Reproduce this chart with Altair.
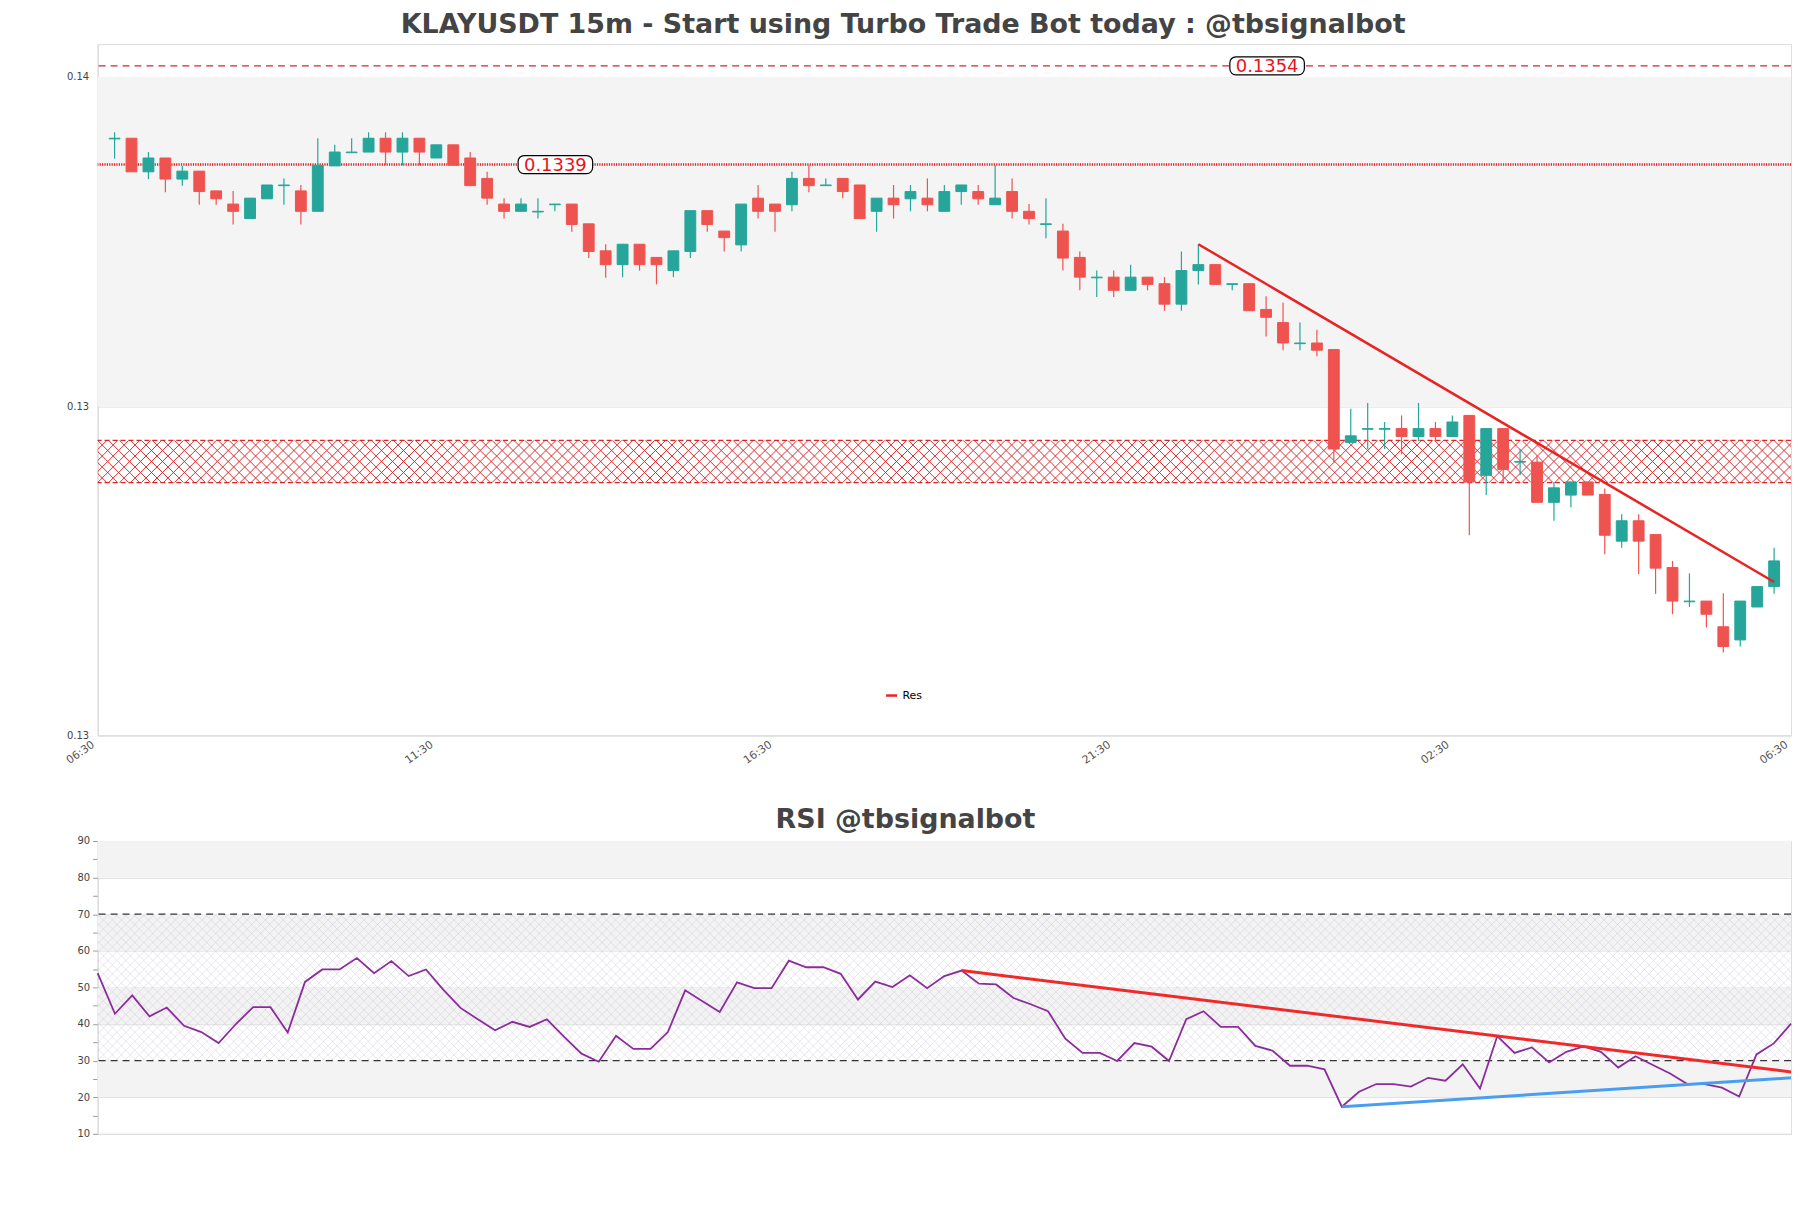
import json
import altair as alt
import pandas as pd

TITLE = "KLAYUSDT 15m - Start using Turbo Trade Bot today : @tbsignalbot"
RSI_TITLE = "RSI @tbsignalbot"
FONT = "DejaVu Sans"

# ---------------- candle data (15m) ----------------
opens = [0.13429, 0.13430, 0.13379, 0.13400, 0.13368, 0.13380, 0.13350, 0.13330, 0.13308, 0.13338,
         0.13358, 0.13350, 0.13319, 0.13388, 0.13408, 0.13409, 0.13430, 0.13409, 0.13430, 0.13400,
         0.13420, 0.13400, 0.13369, 0.13330, 0.13319, 0.13318, 0.13329, 0.13330, 0.13300, 0.13259,
         0.13238, 0.13269, 0.13249, 0.13229, 0.13258, 0.13320, 0.13289, 0.13268, 0.13339, 0.13330,
         0.13329, 0.13369, 0.13358, 0.13369, 0.13359, 0.13319, 0.13339, 0.13338, 0.13339, 0.13319,
         0.13349, 0.13349, 0.13329, 0.13349, 0.13319, 0.13299, 0.13289, 0.13249, 0.13218, 0.13219,
         0.13199, 0.13219, 0.13209, 0.13178, 0.13229, 0.13238, 0.13208, 0.13209, 0.13170, 0.13150,
         0.13118, 0.13119, 0.13109, 0.12968, 0.12988, 0.12988, 0.12989, 0.12977, 0.12989, 0.12977,
         0.13009, 0.12918, 0.12989, 0.12938, 0.12938, 0.12877, 0.12888, 0.12908, 0.12889, 0.12818,
         0.12849, 0.12828, 0.12778, 0.12726, 0.12727, 0.12688, 0.12668, 0.12718, 0.12749]
highs = [0.13439, 0.13430, 0.13409, 0.13400, 0.13388, 0.13380, 0.13350, 0.13350, 0.13339, 0.13359,
         0.13369, 0.13359, 0.13430, 0.13420, 0.13430, 0.13439, 0.13439, 0.13439, 0.13430, 0.13420,
         0.13420, 0.13409, 0.13379, 0.13339, 0.13339, 0.13339, 0.13330, 0.13330, 0.13300, 0.13269,
         0.13269, 0.13269, 0.13249, 0.13259, 0.13320, 0.13320, 0.13289, 0.13330, 0.13359, 0.13330,
         0.13379, 0.13389, 0.13369, 0.13369, 0.13359, 0.13339, 0.13359, 0.13359, 0.13369, 0.13359,
         0.13359, 0.13359, 0.13389, 0.13369, 0.13330, 0.13339, 0.13300, 0.13258, 0.13229, 0.13229,
         0.13238, 0.13219, 0.13219, 0.13258, 0.13269, 0.13238, 0.13209, 0.13209, 0.13190, 0.13180,
         0.13150, 0.13139, 0.13109, 0.13019, 0.13028, 0.12999, 0.13009, 0.13028, 0.12999, 0.13009,
         0.13009, 0.12989, 0.12989, 0.12958, 0.12948, 0.12908, 0.12908, 0.12908, 0.12898, 0.12859,
         0.12859, 0.12828, 0.12788, 0.12769, 0.12727, 0.12739, 0.12727, 0.12749, 0.12808]
lows = [0.13399, 0.13379, 0.13368, 0.13348, 0.13358, 0.13329, 0.13329, 0.13299, 0.13308, 0.13338,
        0.13329, 0.13299, 0.13319, 0.13388, 0.13408, 0.13409, 0.13389, 0.13389, 0.13389, 0.13400,
        0.13389, 0.13358, 0.13329, 0.13308, 0.13319, 0.13308, 0.13319, 0.13288, 0.13248, 0.13218,
        0.13219, 0.13229, 0.13208, 0.13219, 0.13248, 0.13288, 0.13258, 0.13258, 0.13308, 0.13288,
        0.13319, 0.13348, 0.13358, 0.13339, 0.13308, 0.13288, 0.13308, 0.13319, 0.13319, 0.13319,
        0.13329, 0.13329, 0.13329, 0.13308, 0.13299, 0.13278, 0.13229, 0.13199, 0.13189, 0.13189,
        0.13199, 0.13199, 0.13168, 0.13168, 0.13208, 0.13208, 0.13199, 0.13168, 0.13129, 0.13108,
        0.13108, 0.13099, 0.12937, 0.12968, 0.12958, 0.12958, 0.12950, 0.12970, 0.12970, 0.12977,
        0.12827, 0.12888, 0.12908, 0.12918, 0.12877, 0.12849, 0.12869, 0.12888, 0.12798, 0.12808,
        0.12768, 0.12738, 0.12707, 0.12718, 0.12687, 0.12649, 0.12658, 0.12718, 0.12738]
closes = [0.13430, 0.13379, 0.13400, 0.13368, 0.13380, 0.13349, 0.13338, 0.13319, 0.13339, 0.13359,
          0.13359, 0.13319, 0.13389, 0.13409, 0.13409, 0.13430, 0.13409, 0.13430, 0.13409, 0.13420,
          0.13389, 0.13358, 0.13339, 0.13319, 0.13330, 0.13319, 0.13330, 0.13299, 0.13258, 0.13238,
          0.13269, 0.13238, 0.13238, 0.13259, 0.13320, 0.13299, 0.13279, 0.13330, 0.13319, 0.13319,
          0.13369, 0.13358, 0.13359, 0.13349, 0.13308, 0.13339, 0.13329, 0.13349, 0.13329, 0.13349,
          0.13359, 0.13338, 0.13339, 0.13319, 0.13308, 0.13300, 0.13248, 0.13219, 0.13219, 0.13199,
          0.13219, 0.13208, 0.13178, 0.13229, 0.13238, 0.13208, 0.13209, 0.13168, 0.13158, 0.13119,
          0.13119, 0.13108, 0.12958, 0.12978, 0.12989, 0.12989, 0.12977, 0.12989, 0.12977, 0.12999,
          0.12908, 0.12989, 0.12927, 0.12939, 0.12877, 0.12899, 0.12908, 0.12888, 0.12827, 0.12849,
          0.12818, 0.12777, 0.12727, 0.12727, 0.12707, 0.12658, 0.12727, 0.12749, 0.12788]
positions = list(range(1, len(opens) + 1))

x_tick_pos = [0, 20, 40, 60, 80, 100]
x_tick_labels = ["06:30", "11:30", "16:30", "21:30", "02:30", "06:30"]
price_domain = [0.12523, 0.13573]
y_tick_vals = [0.12523, 0.13023, 0.13523]
band_lo = [0.13023]
band_hi = [0.13523]

dotted_level = [0.1339]
dashed_level = [0.1354]
zone_lo, zone_hi = 0.12907, 0.12971

trend_x = [65, 99]
trend_y = [0.13269, 0.12756]
trend_name = ["Res", "Res"]

label_pos = [27.03, 69.06]
label_vals = [0.1339, 0.1354]
label_text = ["0.1339", "0.1354"]

# ---------------- RSI data ----------------
rsi = [53.9, 42.8, 47.8, 42.1, 44.5, 39.5, 37.8, 34.8, 40.0, 44.6,
       44.6, 37.7, 51.5, 54.9, 54.9, 58.0, 53.9, 57.2, 53.1, 54.9,
       49.4, 44.4, 41.3, 38.3, 40.6, 39.2, 41.3, 36.5, 31.9, 29.7,
       36.8, 33.2, 33.2, 37.8, 49.2, 46.2, 43.3, 51.4, 49.8, 49.8,
       57.3, 55.5, 55.5, 53.7, 46.7, 51.6, 50.1, 53.3, 49.8, 53.1,
       54.6, 51.0, 50.8, 47.1, 45.4, 43.5, 36.0, 32.1, 32.1, 29.9,
       34.8, 33.8, 29.9, 41.3, 43.5, 39.2, 39.2, 34.0, 32.7, 28.6,
       28.6, 27.6, 17.4, 21.5, 23.6, 23.6, 22.9, 25.3, 24.5, 29.0,
       22.4, 36.7, 32.1, 33.6, 29.5, 32.4, 33.9, 32.4, 28.1, 31.2,
       28.8, 26.5, 23.6, 23.6, 22.6, 20.2, 31.7, 34.7, 40.1]
rsi_idx = list(range(len(rsi)))
rsi_domain = [10, 90]
rsi_ticks = [10, 15, 20, 25, 30, 35, 40, 45, 50, 55, 60, 65, 70, 75, 80, 85, 90]
rsi_band_lo = [80, 60, 40, 20]
rsi_band_hi = [90, 70, 50, 30]
rsi_levels = [70, 30]
rsi_red_x = [50, 98]
rsi_red_y = [54.6, 26.9]
rsi_blue_x = [72, 98]
rsi_blue_y = [17.4, 25.3]

# ---------------- styles ----------------
UP, DOWN = "#26a69a", "#ef5350"
W, H1, H2 = 1700, 694, 294

candles = pd.DataFrame({"pos": positions, "open": opens, "high": highs,
                        "low": lows, "close": closes})
candles["dir"] = ["up" if c >= o else "down" for o, c in zip(opens, closes)]

xscale = alt.Scale(domain=[0, 100], nice=False, zero=False)
xaxis = alt.Axis(values=x_tick_pos, grid=False, ticks=False, labelAngle=325,
                 labelAlign="right", labelBaseline="top", labelPadding=3, labelOffset=-8,
                 labelFontSize=11, labelColor="#555555", labelFont=FONT,
                 domainColor="#d9d9d9",
                 labelExpr=json.dumps(x_tick_labels) + "[round(datum.value/20)]")
TX = lambda f: alt.X(f, scale=xscale, axis=xaxis, title=None)
yscale = alt.Scale(domain=price_domain, nice=False, zero=False)
yaxis = alt.Axis(values=y_tick_vals, format=".2f", grid=True, ticks=False,
                 gridColor="#e4e4e4", domainColor="#d9d9d9",
                 labelFontSize=10, labelColor="#444444", labelFont=FONT,
                 labelPadding=9, minExtent=84, maxExtent=84)
Y = lambda f: alt.Y(f, scale=yscale, title=None, axis=yaxis)

band = alt.Chart(pd.DataFrame({"x": [0], "x2": [100], "lo": band_lo, "hi": band_hi})).mark_rect(
    color="#f4f4f4").encode(x=TX("x:Q"), x2="x2:Q", y=Y("lo:Q"), y2="hi:Q")

step, dx = 0.647, 2.48
hatch_base = alt.Chart(alt.sequence(-6, 160, as_="k")).transform_calculate(
    hx=f"datum.k*{step}", hx2=f"datum.k*{step}+{dx}", zlo=str(zone_lo), zhi=str(zone_hi))
hatch1 = hatch_base.mark_rule(color="#dc2426", strokeWidth=0.95, opacity=1, clip=True).encode(
    x=TX("hx:Q"), x2="hx2:Q", y=Y("zlo:Q"), y2="zhi:Q")
hatch2 = hatch_base.mark_rule(color="#dc2426", strokeWidth=0.95, opacity=1, clip=True).encode(
    x=TX("hx:Q"), x2="hx2:Q", y=Y("zhi:Q"), y2="zlo:Q")

zone_edges = alt.Chart(pd.DataFrame({"v": [zone_lo, zone_hi]})).mark_rule(
    color="#dc2426", strokeWidth=1.3, strokeDash=[5, 3]).encode(y=Y("v:Q"))
dash_line = alt.Chart(pd.DataFrame({"v": dashed_level})).mark_rule(
    color="#d42a2a", strokeWidth=1.2, strokeDash=[7, 5]).encode(y=Y("v:Q"))
dot_line = alt.Chart(pd.DataFrame({"v": dotted_level})).mark_rule(
    color="#e81a1a", strokeWidth=2.6, strokeDash=[1.2, 1.2]).encode(y=Y("v:Q"))

cscale = alt.Scale(domain=["up", "down"], range=[UP, DOWN])
wicks = alt.Chart(candles).mark_rule(strokeWidth=1.2).encode(
    x=TX("pos:Q"), y=Y("low:Q"), y2="high:Q", color=alt.Color("dir:N", scale=cscale, legend=None))
bodies = alt.Chart(candles).transform_calculate(
    xl="datum.pos-0.32", xr="datum.pos+0.32").mark_rect(strokeWidth=1).encode(
    x=TX("xl:Q"), x2="xr:Q", y=Y("open:Q"), y2="close:Q",
    fill=alt.Fill("dir:N", scale=cscale, legend=None),
    stroke=alt.Stroke("dir:N", scale=cscale, legend=None))

trend = alt.Chart(pd.DataFrame({"x": trend_x, "y": trend_y, "name": trend_name})).mark_line(
    strokeWidth=2.5).encode(
    x=TX("x:Q"), y=Y("y:Q"),
    color=alt.Color("name:N", scale=alt.Scale(domain=["Res"], range=["#e82323"]),
                    legend=alt.Legend(orient="none", legendX=790, legendY=647, title=None,
                                      symbolType="stroke", symbolStrokeWidth=2.5, symbolSize=120,
                                      labelFontSize=11, labelFont=FONT, labelColor="#000000",
                                      padding=0)))

lbl = pd.DataFrame({"pos": label_pos, "v": label_vals, "t": label_text})
lbl_box = alt.Chart(lbl).transform_calculate(
    bx="datum.pos-2.2", bx2="datum.pos+2.2", by="datum.v-0.000137", by2="datum.v+0.000137"
).mark_rect(fill="white", stroke="#000000", strokeWidth=1.2, cornerRadius=6).encode(
    x=TX("bx:Q"), x2="bx2:Q", y=Y("by:Q"), y2="by2:Q")
lbl_text = alt.Chart(lbl).mark_text(fontSize=18, font=FONT, color="#e8141b",
                                    align="center", baseline="middle", dy=1).encode(
    x=TX("pos:Q"), y=Y("v:Q"), text="t:N")

top = alt.layer(band, hatch1, hatch2, zone_edges, dash_line, dot_line, wicks, bodies,
                trend, lbl_box, lbl_text).resolve_scale(color="independent").properties(
    width=W, height=H1,
    title=alt.TitleParams(TITLE, fontSize=27, fontWeight="bold", color="#444444", font=FONT,
                          anchor="middle", frame="bounds", offset=5))

# ---------------- RSI panel ----------------
rx = alt.Scale(domain=[0, 98], nice=False, zero=False)
ryscale = alt.Scale(domain=rsi_domain, nice=False, zero=False)
ryaxis = alt.Axis(values=rsi_ticks, tickSize=5, tickColor="#999999",
                  labelExpr="datum.value % 10 === 0 ? datum.label : ''",
                  gridColor={"condition": {"test": "datum.value % 10 === 0",
                                           "value": "#dddddd"},
                             "value": "rgba(0,0,0,0)"},
                  grid=True, domainColor="#d9d9d9", labelFontSize=10,
                  labelColor="#444444", labelFont=FONT, labelPadding=3,
                  minExtent=84, maxExtent=84)
RY = lambda f: alt.Y(f, scale=ryscale, title=None, axis=ryaxis)
RX = lambda f: alt.X(f, scale=rx, axis=None, title=None)

rbands = alt.Chart(pd.DataFrame({"x": [0] * 4, "x2": [98] * 4, "lo": rsi_band_lo,
                                 "hi": rsi_band_hi})).mark_rect(color="#f3f3f3").encode(
    x=RX("x:Q"), x2="x2:Q", y=RY("lo:Q"), y2="hi:Q")
rstep, rdx = 0.52, 8.47
rh_base = alt.Chart(alt.sequence(-18, 192, as_="k")).transform_calculate(
    hx=f"datum.k*{rstep}", hx2=f"datum.k*{rstep}+{rdx}", zlo="30", zhi="70")
rh1 = rh_base.mark_rule(color="#cbc2d3", strokeWidth=0.6, opacity=0.7, clip=True).encode(
    x=RX("hx:Q"), x2="hx2:Q", y=RY("zlo:Q"), y2="zhi:Q")
rh2 = rh_base.mark_rule(color="#cbc2d3", strokeWidth=0.6, opacity=0.7, clip=True).encode(
    x=RX("hx:Q"), x2="hx2:Q", y=RY("zhi:Q"), y2="zlo:Q")
rlev = alt.Chart(pd.DataFrame({"v": rsi_levels})).mark_rule(
    color="#333333", strokeWidth=1.2, strokeDash=[7, 5]).encode(y=RY("v:Q"))
rline = alt.Chart(pd.DataFrame({"i": rsi_idx, "r": rsi})).mark_line(
    color="#8a2c9b", strokeWidth=1.8).encode(x=RX("i:Q"), y=RY("r:Q"))
rred = alt.Chart(pd.DataFrame({"i": rsi_red_x, "r": rsi_red_y})).mark_line(
    color="#ee2a2a", strokeWidth=3).encode(x=RX("i:Q"), y=RY("r:Q"))
rblue = alt.Chart(pd.DataFrame({"i": rsi_blue_x, "r": rsi_blue_y})).mark_line(
    color="#4a9ef0", strokeWidth=3).encode(x=RX("i:Q"), y=RY("r:Q"))

bottom = alt.layer(rbands, rh1, rh2, rlev, rline, rred, rblue).properties(
    width=W, height=H2,
    title=alt.TitleParams(RSI_TITLE, fontSize=27, fontWeight="bold", color="#444444", font=FONT,
                          anchor="middle", frame="bounds", offset=2))

chart = alt.vconcat(top, bottom, spacing=39).properties(
    padding={"top": 0, "left": 5, "right": 5, "bottom": 5}
).configure_view(stroke="#dddddd").configure(background="white")

chart.save("out.html", embed_options={"renderer": "svg", "actions": False})
